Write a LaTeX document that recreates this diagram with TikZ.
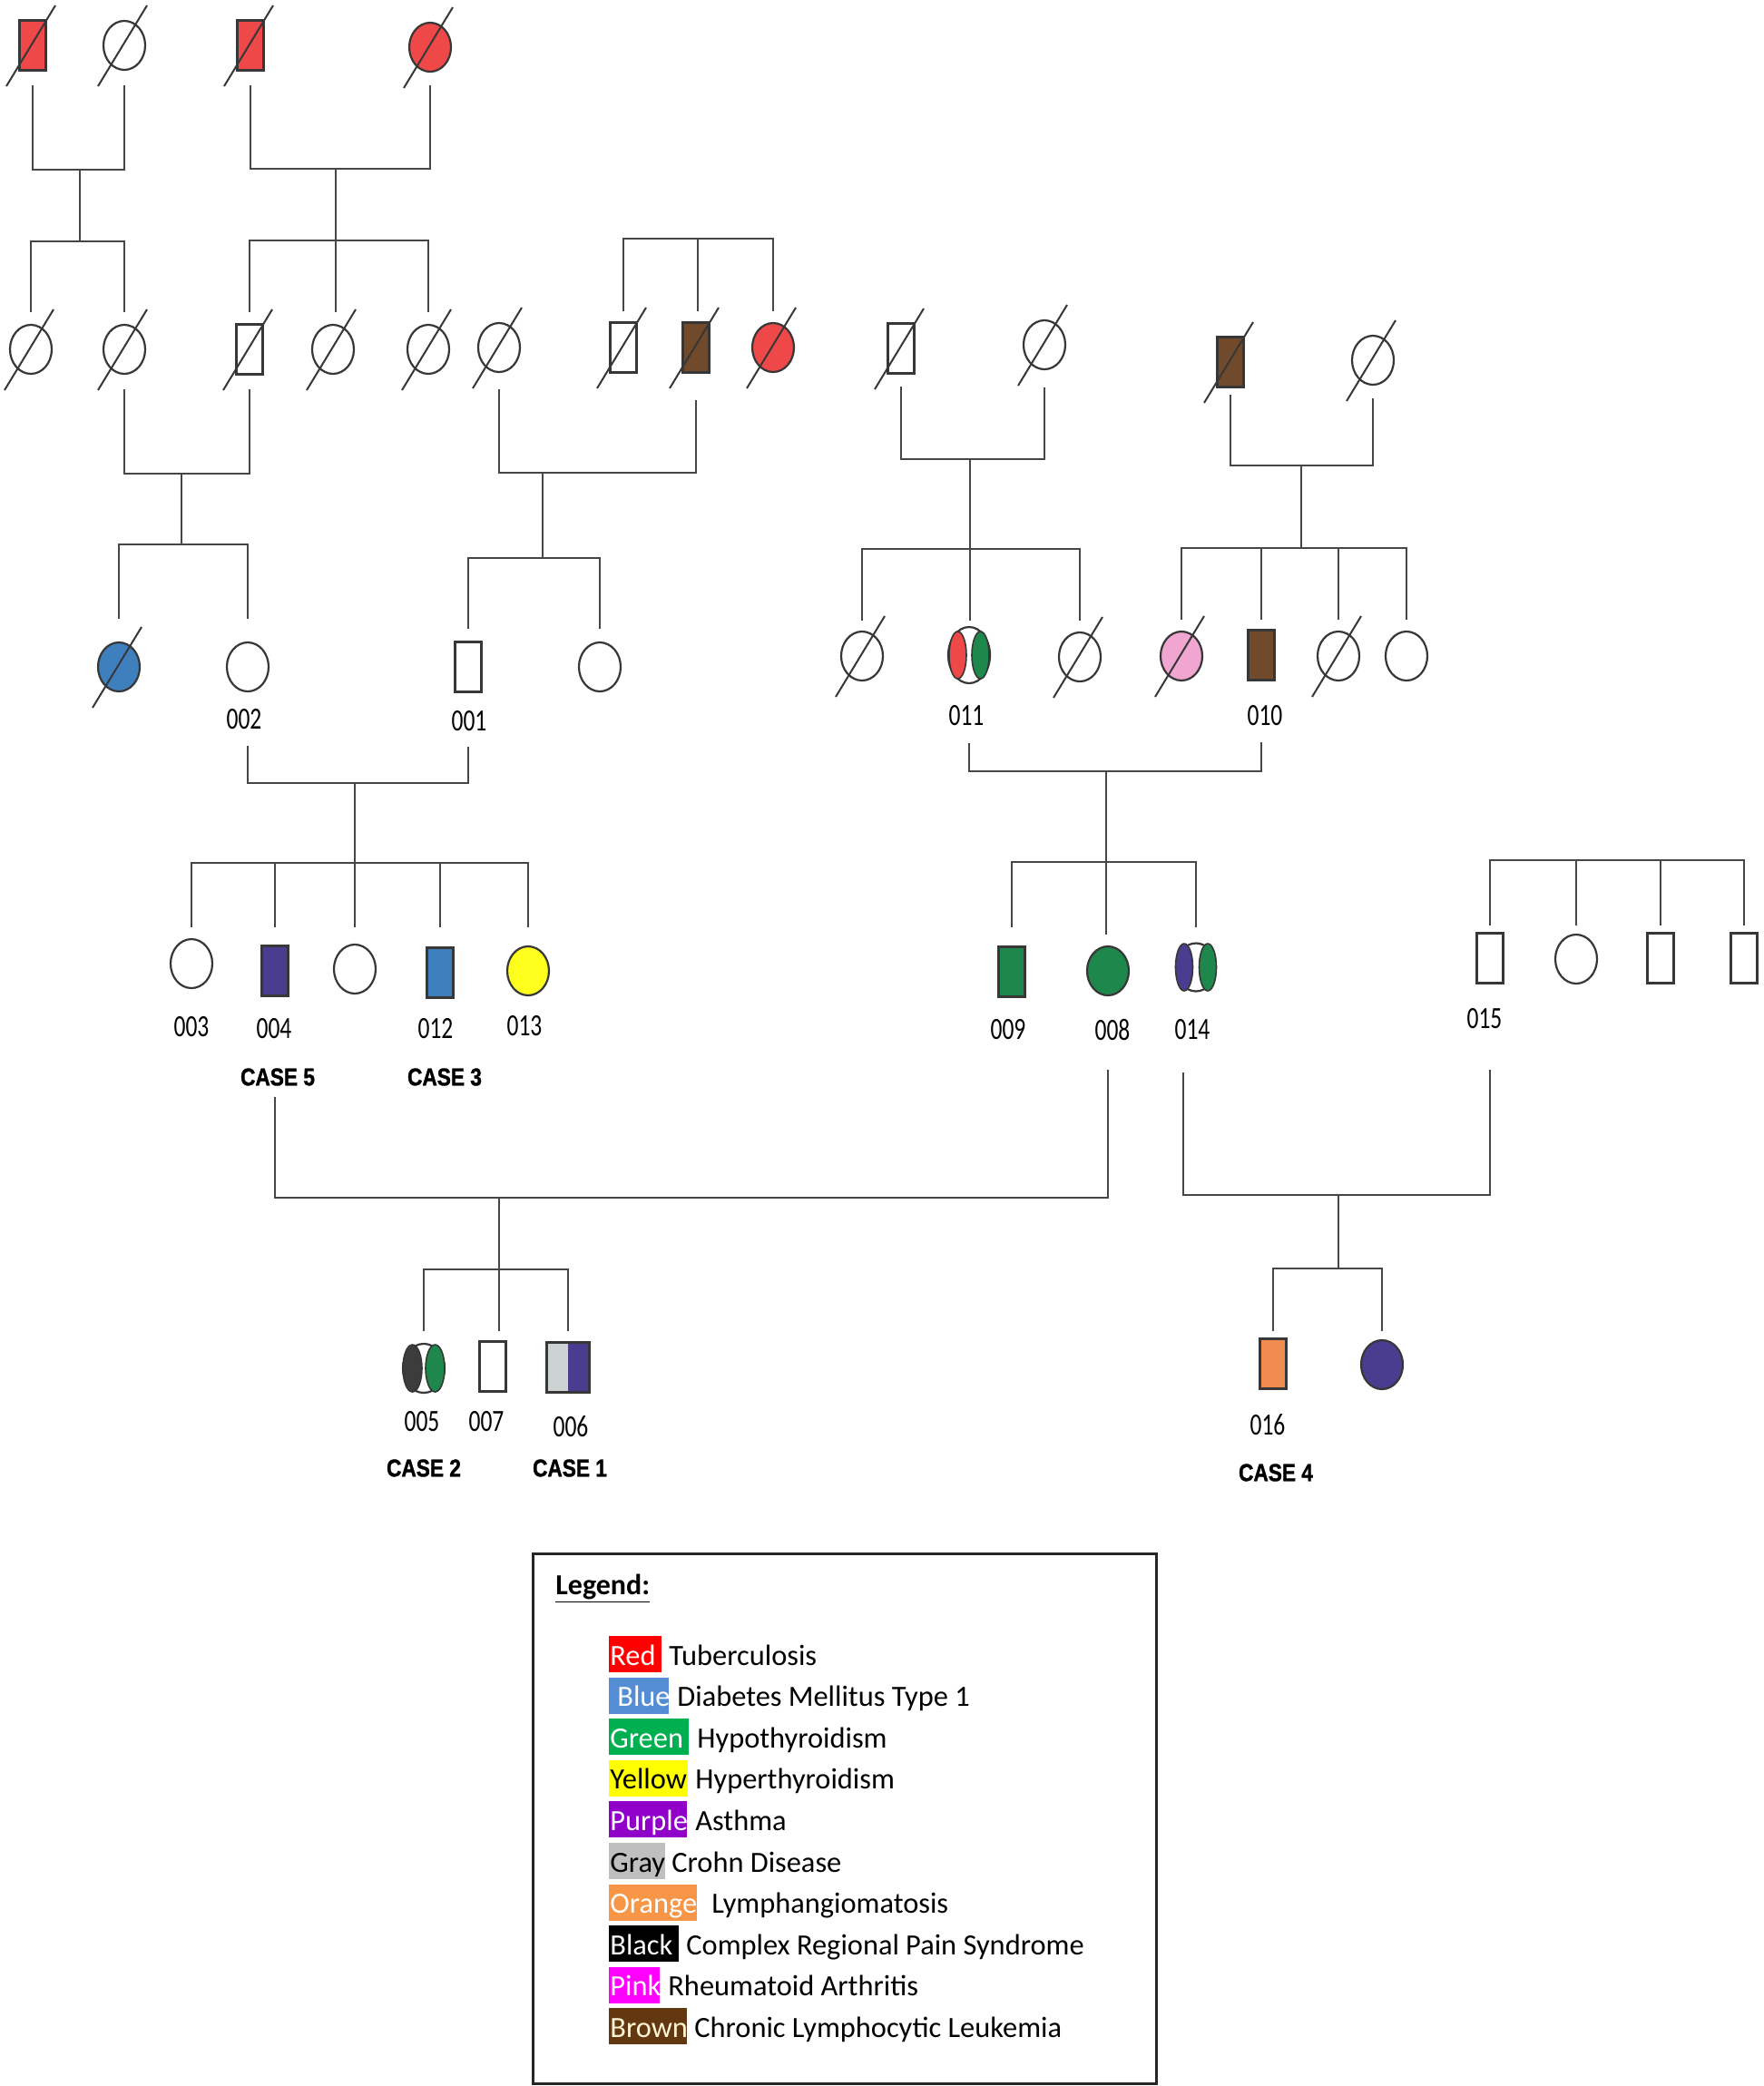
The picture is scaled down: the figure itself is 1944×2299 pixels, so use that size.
\documentclass[tikz,border=0pt]{standalone}
\usepackage{fontspec}
\setmainfont{Carlito}
\newfontfamily\numfont[FakeStretch=0.75]{Carlito}
\newfontfamily\casefont[FakeStretch=0.84, BoldFeatures={FakeBold=1.2}]{Liberation Sans}
\usetikzlibrary{shapes.geometric}
\definecolor{lc}{RGB}{70,70,70}
\definecolor{sdark}{RGB}{55,55,55}
\definecolor{sred}{RGB}{238,72,72}
\definecolor{sblue}{RGB}{62,127,190}
\definecolor{spurple}{RGB}{74,60,143}
\definecolor{sgreen}{RGB}{30,135,75}
\definecolor{syellow}{RGB}{255,255,30}
\definecolor{sbrown}{RGB}{112,74,42}
\definecolor{spink}{RGB}{240,166,208}
\definecolor{sorange}{RGB}{240,140,80}
\definecolor{sgray}{RGB}{205,210,210}
\definecolor{sblack}{RGB}{60,60,60}
\definecolor{lred}{RGB}{255,0,0}
\definecolor{lblue}{RGB}{84,141,212}
\definecolor{lgreen}{RGB}{0,176,80}
\definecolor{lyellow}{RGB}{255,255,0}
\definecolor{lpurple}{RGB}{144,0,200}
\definecolor{lgray}{RGB}{191,191,191}
\definecolor{lorange}{RGB}{247,150,70}
\definecolor{lpink}{RGB}{255,0,255}
\definecolor{lbrown}{RGB}{99,55,15}
\definecolor{lcream}{RGB}{255,245,215}
\tikzset{
  pline/.style={draw=lc, line width=1.25pt},
  slash/.style={draw=sdark, line width=1pt},
  male/.style={rectangle, draw=sdark, line width=1.1pt, minimum width=14.5pt, minimum height=27.5pt, inner sep=0pt, fill=white},
  female/.style={ellipse, draw=sdark, line width=1.1pt, minimum width=23pt, minimum height=27pt, inner sep=0pt, fill=white},
  half/.style={ellipse, draw=sdark, line width=0.8pt, minimum width=9.5pt, minimum height=26pt, inner sep=0pt},
  numlab/.style={inner sep=0pt, font=\numfont\fontsize{17}{20}\selectfont},
  caselab/.style={inner sep=0pt, font=\casefont\bfseries\fontsize{13.5}{16}\selectfont},
  legtext/.style={anchor=base west, inner sep=0pt, font=\fontsize{16.2}{19}\selectfont}
}
\newcommand\dcs[1]{\draw[slash] (#1.center) ++(-29,45) -- ++(54,-89);}
\newcommand\legrow[7]{%
  \pgfmathsetmacro\lby{1835+45.6*#1}%
  \pgfmathsetmacro\lbt{\lby-32}%
  \pgfmathsetmacro\lbb{\lby+8}%
  \pgfmathsetmacro\lbr{671+#5}%
  \fill[#2] (671,\lbt) rectangle (\lbr,\lbb);%
  \node[legtext, text=#3] (key#1) at (672,\lby) {#4};%
  \node[legtext] (desc#1) at (#6,\lby) {#7};%
}
\begin{document}
\begin{tikzpicture}[x=0.5pt, y=-0.5pt]
\fill[white] (0,0) rectangle (1944,2299);
\useasboundingbox (0,0) rectangle (1944,2299);

% ---------- Generation I
\node[male, fill=sred] (I1) at (36,50) {};
\node[female] (I2) at (137,50) {};
\node[male, fill=sred] (I3) at (276,50) {};
\node[female, fill=sred] (I4) at (474,52) {};

% ---------- Generation II
\node[female] (II1) at (34,385) {};
\node[female] (II2) at (137,385) {};
\node[male] (II3) at (275,385) {};
\node[female] (II4) at (367,385) {};
\node[female] (II5) at (472,385) {};
\node[female] (II6) at (550,383) {};
\node[male] (II7) at (687,383) {};
\node[male, fill=sbrown] (II8) at (767,383) {};
\node[female, fill=sred] (II9) at (852,383) {};
\node[male] (II10) at (993,384) {};
\node[female] (II11) at (1151,380) {};
\node[male, fill=sbrown] (II12) at (1356,399) {};
\node[female] (II13) at (1513,397) {};

% ---------- Generation III
\node[female, fill=sblue] (III1) at (131,735) {};
\node[female] (III2) at (273,735) {};
\node[male] (III3) at (516,735) {};
\node[female] (III4) at (661,735) {};
\node[female] (III5) at (950,723) {};
\node[female, minimum height=31pt] (III6) at (1068,722) {};
\node[half, fill=sred] (III6a) at ([xshift=-6.25pt]III6.center) {};
\node[half, fill=sgreen] (III6b) at ([xshift=6.25pt]III6.center) {};
\node[female] (III7) at (1190,724) {};
\node[female, fill=spink] (III8) at (1302,723) {};
\node[male, fill=sbrown] (III9) at (1390,722) {};
\node[female] (III10) at (1475,723) {};
\node[female] (III11) at (1550,723) {};

% ---------- Generation IV
\node[female] (IV1) at (211,1062) {};
\node[male, fill=spurple] (IV2) at (303,1070) {};
\node[female] (IV3) at (391,1068) {};
\node[male, fill=sblue] (IV4) at (485,1072) {};
\node[female, fill=syellow] (IV5) at (582,1070) {};
\node[male, fill=sgreen] (IV6) at (1115,1071) {};
\node[female, fill=sgreen] (IV7) at (1221,1070) {};
\node[female, minimum width=22pt, minimum height=26.5pt] (IV8) at (1318,1066) {};
\node[half, fill=spurple] (IV8a) at ([xshift=-6.5pt]IV8.center) {};
\node[half, fill=sgreen] (IV8b) at ([xshift=6.5pt]IV8.center) {};
\node[male] (IV9) at (1642,1056) {};
\node[female] (IV10) at (1737,1057) {};
\node[male] (IV11) at (1830,1056) {};
\node[male] (IV12) at (1922,1056) {};

% ---------- Generation V
\node[female, minimum height=27pt] (V1) at (467,1508) {};
\node[half, fill=sblack, minimum width=10.5pt] (V1a) at ([xshift=-6.25pt]V1.center) {};
\node[half, fill=sgreen, minimum width=10.5pt] (V1b) at ([xshift=6.25pt]V1.center) {};
\node[male] (V2) at (543,1506) {};
\node[male, minimum width=23.5pt, path picture={
  \fill[sgray] (path picture bounding box.south west) rectangle (path picture bounding box.north);
  \fill[spurple] (path picture bounding box.south) rectangle (path picture bounding box.north east);}] (V3) at (626,1507) {};
\node[male, fill=sorange] (V4) at (1403,1503) {};
\node[female, fill=spurple] (V5) at (1523,1504) {};

% ---------- deceased
\foreach \n in {I1,I2,I3,I4,II1,II2,II3,II4,II5,II6,II7,II8,II9,II10,II11,II12,II13,III1,III5,III7,III8,III10}{\dcs{\n}}

% ---------- lines
% family A
\coordinate (mA) at (88,187);
\coordinate (sA) at (88,266);
\draw[pline] (I1 |- 0,94) |- (mA) -| (I2 |- 0,94);
\draw[pline] (mA) -- (sA);
\draw[pline] (II1 |- 0,344) |- (sA) -| (II2 |- 0,344);
% family B
\coordinate (mB) at (370,186);
\coordinate (sB) at (370,265);
\draw[pline] (I3 |- 0,94) |- (mB) -| (I4 |- 0,94);
\draw[pline] (mB) -- (mB |- 0,344);
\draw[pline] (II3 |- 0,344) |- (sB) -| (II5 |- 0,344);
% family C
\coordinate (sC) at (769,263);
\draw[pline] (II7 |- 0,343) |- (sC) -| (II9 |- 0,343);
\draw[pline] (sC) -- (sC |- 0,343);
% family D
\coordinate (mD) at (200,522);
\coordinate (sD) at (200,600);
\draw[pline] (II2 |- 0,429) |- (mD) -| (II3 |- 0,429);
\draw[pline] (mD) -- (sD);
\draw[pline] (III1 |- 0,682) |- (sD) -| (III2 |- 0,682);
% family E
\coordinate (mE) at (598,521);
\coordinate (sE) at (598,615);
\draw[pline] (II6 |- 0,429) |- (mE) -| (II8 |- 0,441);
\draw[pline] (mE) -- (sE);
\draw[pline] (III3 |- 0,693) |- (sE) -| (III4 |- 0,693);
% family F
\coordinate (mF) at (1069,506);
\coordinate (sF) at (1069,605);
\draw[pline] (II10 |- 0,426) |- (mF) -| (II11 |- 0,427);
\draw[pline] (mF) -- (mF |- 0,684);
\draw[pline] (III5 |- 0,684) |- (sF) -| (III7 |- 0,684);
% family G
\coordinate (mG) at (1434,513);
\coordinate (sG) at (1434,604);
\draw[pline] (II12 |- 0,435) |- (mG) -| (II13 |- 0,439);
\draw[pline] (mG) -- (sG);
\draw[pline] (III8 |- 0,683) |- (sG) -| (III11 |- 0,683);
\draw[pline] (III9 |- 0,683) -- (III9 |- 0,604);
\draw[pline] (III10 |- 0,683) -- (III10 |- 0,604);
% family H
\coordinate (mH) at (391,863);
\coordinate (sH) at (391,951);
\draw[pline] (III2 |- 0,822) |- (mH) -| (III3 |- 0,823);
\draw[pline] (mH) -- (mH |- 0,1022);
\draw[pline] (IV1 |- 0,1022) |- (sH) -| (IV5 |- 0,1022);
\draw[pline] (IV2 |- 0,1022) -- (IV2 |- 0,951);
\draw[pline] (IV4 |- 0,1022) -- (IV4 |- 0,951);
% family J
\coordinate (mJ) at (1219,850);
\coordinate (sJ) at (1219,950);
\draw[pline] (III6 |- 0,819) |- (mJ) -| (III9 |- 0,818);
\draw[pline] (mJ) -- (mJ |- 0,1030);
\draw[pline] (IV6 |- 0,1022) |- (sJ) -| (IV8 |- 0,1022);
% family K
\coordinate (sK) at (1783,948);
\draw[pline] (IV9 |- 0,1020) |- (sK) -| (IV12 |- 0,1020);
\draw[pline] (IV10 |- 0,1020) -- (IV10 |- 0,948);
\draw[pline] (IV11 |- 0,1020) -- (IV11 |- 0,948);
% family L
\coordinate (mL) at (550,1320);
\coordinate (sL) at (550,1399);
\draw[pline] (IV2 |- 0,1209) |- (mL) -| (IV7 |- 0,1179);
\draw[pline] (mL) -- (mL |- 0,1467);
\draw[pline] (V1 |- 0,1467) |- (sL) -| (V3 |- 0,1467);
% family M
\coordinate (c14) at (1304,1182);
\coordinate (mM) at (1475,1317);
\coordinate (sM) at (1475,1398);
\draw[pline] (c14) |- (mM) -| (IV9 |- 0,1179);
\draw[pline] (mM) -- (sM);
\draw[pline] (V4 |- 0,1467) |- (sM) -| (V5 |- 0,1467);

% ---------- labels
\node[numlab] (t002) at (269,793) {002};
\node[numlab] (t001) at (517,795) {001};
\node[numlab] (t011) at (1065,789) {011};
\node[numlab] (t010) at (1394,789) {010};
\node[numlab] (t003) at (211,1132) {003};
\node[numlab] (t004) at (302,1134) {004};
\node[numlab] (t012) at (480,1134) {012};
\node[numlab] (t013) at (578,1131) {013};
\node[numlab] (t009) at (1111,1135) {009};
\node[numlab] (t008) at (1226,1135) {008};
\node[numlab] (t014) at (1314,1135) {014};
\node[numlab] (t015) at (1636,1123) {015};
\node[numlab] (t005) at (465,1567) {005};
\node[numlab] (t007) at (536,1567) {007};
\node[numlab] (t006) at (629,1572) {006};
\node[numlab] (t016) at (1397,1570) {016};
\node[caselab] (c5) at (306,1187) {CASE 5};
\node[caselab] (c3) at (490,1187) {CASE 3};
\node[caselab] (c2) at (467,1618) {CASE 2};
\node[caselab] (c1) at (628,1618) {CASE 1};
\node[caselab] (c4) at (1406,1623) {CASE 4};

% ---------- legend
\node[draw=black!85, line width=1.5pt, minimum width=343.5pt, minimum height=292pt, inner sep=0pt] (legbox) at (930.5,2004) {};
\node[anchor=base west, inner sep=0pt, font=\bfseries\fontsize{16}{19}\selectfont] (legtitle) at (612,1757) {\underline{Legend:}};
\legrow{0}{lred}{white}{Red}{58}{737}{Tuberculosis}
\legrow{1}{lblue}{white}{\hspace{4pt}Blue}{66}{746}{Diabetes Mellitus Type 1}
\legrow{2}{lgreen}{white}{Green}{88}{768}{Hypothyroidism}
\legrow{3}{lyellow}{black}{Yellow}{87}{766}{Hyperthyroidism}
\legrow{4}{lpurple}{white}{Purple}{86}{766}{Asthma}
\legrow{5}{lgray}{black}{Gray}{62}{740}{Crohn Disease}
\legrow{6}{lorange}{white}{Orange}{97}{784}{Lymphangiomatosis}
\legrow{7}{black}{white}{Black}{77}{756}{Complex Regional Pain Syndrome}
\legrow{8}{lpink}{white}{Pink}{56}{736}{Rheumatoid Arthritis}
\legrow{9}{lbrown}{lcream}{Brown}{86}{765}{Chronic Lymphocytic Leukemia}
\end{tikzpicture}
\end{document}
